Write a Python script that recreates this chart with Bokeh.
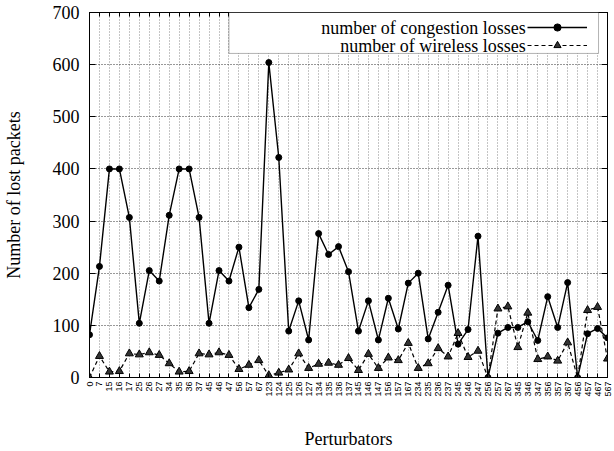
import math
from bokeh.plotting import figure
from bokeh.models import (Range1d, FixedTicker, LinearAxis, Legend, LegendItem,
                          Label, BoxAnnotation)
from bokeh.embed import file_html
from bokeh.resources import INLINE

# ---- data ----
perturbators = ["0", "7", "15", "16", "17", "25", "26", "27", "34", "35", "36", "37",
                "45", "46", "47", "56", "57", "67", "123", "124", "125", "126", "127",
                "134", "135", "136", "137", "145", "146", "147", "156", "157", "167",
                "234", "235", "236", "237", "245", "246", "247", "256", "257", "267",
                "345", "346", "347", "356", "357", "367", "456", "457", "467", "567"]

congestion_losses = [82, 213, 400, 400, 307, 104, 205, 185, 311, 400, 400, 307,
                     104, 205, 185, 250, 134, 169, 604, 422, 89, 147, 72,
                     276, 236, 251, 203, 89, 147, 72, 152, 93, 181,
                     200, 74, 125, 177, 64, 92, 271, 0, 85, 96,
                     96, 107, 71, 155, 96, 182, 0, 84, 94, 76]

wireless_losses = [0, 41, 11, 12, 46, 44, 48, 43, 27, 11, 12, 46,
                   44, 48, 43, 16, 24, 33, 4, 9, 15, 46, 18,
                   26, 28, 24, 37, 14, 45, 18, 38, 33, 66,
                   18, 27, 56, 40, 85, 39, 51, 0, 132, 136,
                   58, 124, 35, 40, 32, 67, 0, 129, 135, 36]

y_ticks = [0, 100, 200, 300, 400, 500, 600, 700]
series_names = ["number of congestion losses", "number of wireless losses"]
x_title = "Perturbators"
y_title = "Number of lost packets"

xs = list(range(len(perturbators)))

SERIF = "Liberation Serif"
SANS = "Liberation Sans"

p = figure(width=612, height=451,
           x_range=Range1d(0, len(perturbators) - 1),
           y_range=Range1d(y_ticks[0], y_ticks[-1]),
           output_backend="svg", toolbar_location=None,
           min_border_left=89, min_border_right=5,
           min_border_top=12, min_border_bottom=74)
p.background_fill_color = "white"
p.border_fill_color = "white"
p.outline_line_color = "black"
p.outline_line_width = 1

xticker = FixedTicker(ticks=xs)
yticker = FixedTicker(ticks=y_ticks)

# bottom axis
xa = p.xaxis[0]
xa.ticker = xticker
xa.major_label_overrides = {i: s for i, s in enumerate(perturbators)}
xa.major_label_orientation = math.pi / 2
xa.major_label_text_font = SANS
xa.major_label_text_font_size = "9px"
xa.major_label_text_color = "black"
xa.major_label_standoff = 4
xa.major_tick_in = 4
xa.major_tick_out = 0
xa.minor_tick_line_color = None
xa.axis_line_color = "black"
xa.axis_label = x_title
xa.axis_label_text_font = SERIF
xa.axis_label_text_font_size = "18px"
xa.axis_label_text_font_style = "normal"
xa.axis_label_text_color = "black"
xa.axis_label_standoff = 29

# left axis
ya = p.yaxis[0]
ya.ticker = yticker
ya.major_label_text_font = SERIF
ya.major_label_text_font_size = "18px"
ya.major_label_text_color = "black"
ya.major_label_standoff = 10
ya.major_tick_in = 6
ya.major_tick_out = 0
ya.minor_tick_line_color = None
ya.axis_line_color = "black"
ya.axis_label = y_title
ya.axis_label_text_font = SERIF
ya.axis_label_text_font_size = "18px"
ya.axis_label_text_font_style = "normal"
ya.axis_label_text_color = "black"
ya.axis_label_standoff = 26

# mirrored axes (ticks only)
top = LinearAxis(ticker=xticker, major_label_text_font_size="0px",
                 major_label_standoff=0, major_tick_in=4, major_tick_out=0,
                 minor_tick_line_color=None, axis_line_color="black")
top.major_label_overrides = {i: "" for i in xs}
p.add_layout(top, "above")
right = LinearAxis(ticker=yticker, major_label_text_font_size="0px",
                   major_label_standoff=0, major_tick_in=6, major_tick_out=0,
                   minor_tick_line_color=None, axis_line_color="black")
right.major_label_overrides = {t: "" for t in y_ticks}
p.add_layout(right, "right")

# grids
p.xgrid.ticker = xticker
p.xgrid.grid_line_color = "#8a8a8a"
p.xgrid.grid_line_dash = "1 2"
p.xgrid.grid_line_width = 1
p.ygrid.ticker = yticker
p.ygrid.grid_line_color = "#333333"
p.ygrid.grid_line_dash = "1 2"
p.ygrid.grid_line_width = 1

# series
l1 = p.line(xs, congestion_losses, line_color="black", line_width=1.4)
m1 = p.scatter(xs, congestion_losses, marker="circle", size=6,
               fill_color="black", line_color="black")
l2 = p.line(xs, wireless_losses, line_color="black", line_width=1.2,
            line_dash="4 3")
m2 = p.scatter(xs, wireless_losses, marker="triangle", size=8,
               fill_color="#333333", line_color="black")

# legend box with right-aligned text and samples on the right
box = BoxAnnotation(left=14.0, right=51.1, top=y_ticks[-1], bottom=621.5,
                    fill_color="white", fill_alpha=1.0,
                    line_color="black", line_width=1)
p.add_layout(box)

for name, yy in zip(series_names, [670, 636]):
    p.add_layout(Label(x=43.8, y=yy, text=name, text_align="right",
                       text_baseline="middle", text_font=SERIF,
                       text_font_size="18px", text_color="black"))

legend = Legend(items=[LegendItem(label=" ", renderers=[l1, m1]),
                       LegendItem(label=" ", renderers=[l2, m2])],
                location=(438, 323), glyph_width=60, glyph_height=18,
                label_width=0, label_standoff=0, padding=0, spacing=0,
                border_line_color=None, background_fill_alpha=0,
                label_text_font_size="1px")
p.add_layout(legend)

open("out.html", "w").write(file_html(p, INLINE))
